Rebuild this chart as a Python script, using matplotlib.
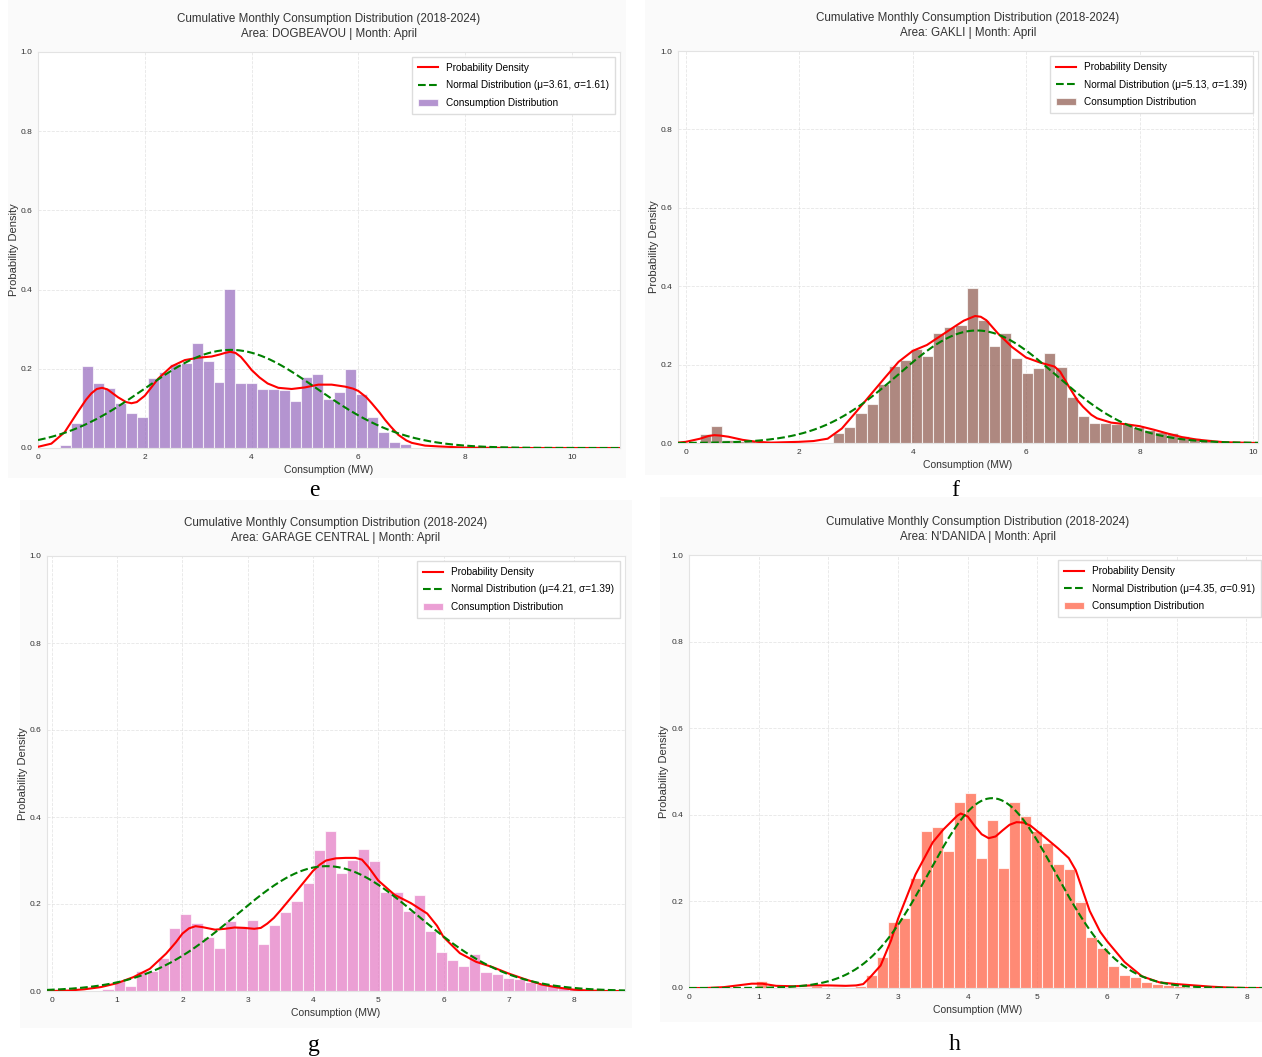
import numpy as np
import matplotlib
matplotlib.use("Agg")
import matplotlib.pyplot as plt
from matplotlib.patches import Rectangle

plt.rcParams['font.family'] = ['Liberation Sans', 'DejaVu Sans']

# ---------------- data ----------------
areas = ["DOGBEAVOU", "GAKLI", "GARAGE CENTRAL", "N'DANIDA"]
panel_letters = ["e", "f", "g", "h"]
mus = [3.61, 5.13, 4.21, 4.35]
sigmas = [1.61, 1.39, 1.39, 0.91]

# histogram (density) bins: first edge, bin width, heights
e_bin_start, e_bin_width = 0.41, 0.2055
e_heights = [0.007, 0.062, 0.206, 0.165, 0.151, 0.113, 0.089, 0.078, 0.176, 0.192,
             0.213, 0.214, 0.264, 0.220, 0.167, 0.402, 0.165, 0.165, 0.150, 0.150,
             0.147, 0.119, 0.179, 0.187, 0.123, 0.142, 0.199, 0.136, 0.079, 0.041,
             0.016, 0.011]

f_bin_start, f_bin_width = 0.246, 0.196
f_heights = [0.022, 0.043, 0.008, 0.006, 0.005, 0.0, 0.0, 0.0, 0.0, 0.0, 0.0, 0.0,
             0.026, 0.041, 0.077, 0.099, 0.150, 0.196, 0.211, 0.240, 0.222, 0.281,
             0.296, 0.300, 0.395, 0.313, 0.248, 0.281, 0.218, 0.179, 0.191, 0.230,
             0.194, 0.117, 0.068, 0.051, 0.051, 0.049, 0.048, 0.041, 0.034, 0.028,
             0.026, 0.017, 0.013, 0.009]

g_bin_start, g_bin_width = 0.775, 0.1703
g_heights = [0.005, 0.024, 0.011, 0.047, 0.046, 0.077, 0.144, 0.177, 0.157, 0.124,
             0.100, 0.161, 0.149, 0.163, 0.109, 0.152, 0.181, 0.208, 0.248, 0.323,
             0.367, 0.272, 0.302, 0.326, 0.298, 0.227, 0.228, 0.185, 0.221, 0.138,
             0.090, 0.072, 0.057, 0.084, 0.043, 0.040, 0.031, 0.027, 0.021, 0.015,
             0.012, 0.008, 0.005]

h_bin_start, h_bin_width = 0.955, 0.158
h_heights = [0.017, 0.0, 0.0, 0.0, 0.003, 0.004, 0.0, 0.003, 0.0, 0.004,
             0.029, 0.071, 0.152, 0.162, 0.255, 0.362, 0.372, 0.317, 0.429, 0.451,
             0.300, 0.389, 0.277, 0.429, 0.398, 0.363, 0.335, 0.287, 0.275, 0.198,
             0.118, 0.093, 0.050, 0.029, 0.025, 0.015, 0.009, 0.007, 0.005, 0.003]

# kernel density curves
e_kde_x = [0, 0.25, 0.5, 0.75, 0.9, 1.0, 1.1, 1.2, 1.3, 1.5, 1.65, 1.75, 1.85, 2.0,
           2.25, 2.5, 2.75, 3.0, 3.25, 3.4, 3.5, 3.6, 3.7, 3.8, 3.9, 4.0, 4.15,
           4.3, 4.5, 4.75, 5.0, 5.25, 5.5, 5.75, 5.9, 6.0, 6.15, 6.25, 6.4, 6.5,
           6.6, 6.75, 6.9, 7.0, 7.25, 7.5, 8.0, 9.0, 10.9]
e_kde_y = [0.003, 0.011, 0.040, 0.092, 0.122, 0.138, 0.149, 0.152, 0.148, 0.128,
           0.116, 0.113, 0.116, 0.132, 0.175, 0.206, 0.222, 0.228, 0.231, 0.236,
           0.240, 0.243, 0.240, 0.230, 0.214, 0.197, 0.178, 0.163, 0.152, 0.149,
           0.153, 0.160, 0.160, 0.155, 0.150, 0.144, 0.128, 0.113, 0.089, 0.071,
           0.055, 0.033, 0.019, 0.013, 0.006, 0.004, 0.001, 0.0, 0.0]

f_kde_x = [-0.14, 0, 0.25, 0.4, 0.5, 0.6, 0.75, 1.0, 1.25, 1.5, 2.0, 2.25, 2.5,
           2.75, 3.0, 3.25, 3.5, 3.75, 4.0, 4.25, 4.5, 4.75, 4.9, 5.0, 5.1, 5.2,
           5.3, 5.5, 5.75, 6.0, 6.25, 6.5, 6.6, 6.75, 6.9, 7.0, 7.15, 7.25, 7.5,
           7.75, 8.0, 8.25, 8.5, 8.75, 9.0, 9.25, 9.5, 9.75, 10.09]
f_kde_y = [0.001, 0.003, 0.011, 0.018, 0.020, 0.019, 0.016, 0.008, 0.003, 0.001,
           0.003, 0.005, 0.011, 0.037, 0.079, 0.122, 0.165, 0.207, 0.235, 0.250,
           0.274, 0.298, 0.312, 0.318, 0.324, 0.322, 0.313, 0.280, 0.245, 0.218,
           0.205, 0.195, 0.182, 0.145, 0.110, 0.093, 0.072, 0.063, 0.052, 0.048,
           0.043, 0.034, 0.024, 0.015, 0.009, 0.005, 0.002, 0.001, 0.0]

g_kde_x = [-0.075, 0, 0.25, 0.5, 0.75, 1.0, 1.25, 1.5, 1.75, 1.9, 2.0, 2.1, 2.2,
           2.3, 2.5, 2.65, 2.8, 2.95, 3.1, 3.2, 3.3, 3.4, 3.5, 3.75, 4.0, 4.1,
           4.2, 4.35, 4.5, 4.65, 4.75, 4.85, 5.0, 5.25, 5.5, 5.75, 5.9, 6.0, 6.25,
           6.5, 6.75, 7.0, 7.25, 7.5, 7.75, 8.0, 8.25, 8.5, 8.78]
g_kde_y = [0.0, 0.0, 0.001, 0.004, 0.009, 0.018, 0.032, 0.051, 0.086, 0.112, 0.132,
           0.144, 0.149, 0.147, 0.141, 0.143, 0.146, 0.145, 0.143, 0.145, 0.155,
           0.168, 0.185, 0.230, 0.276, 0.290, 0.300, 0.305, 0.306, 0.306, 0.302,
           0.285, 0.254, 0.221, 0.202, 0.178, 0.150, 0.124, 0.087, 0.067, 0.055,
           0.040, 0.027, 0.015, 0.008, 0.003, 0.001, 0.0, 0.0]

h_kde_x = [0, 0.25, 0.5, 0.75, 0.9, 1.05, 1.25, 1.5, 1.75, 2.0, 2.25, 2.4, 2.5, 2.6,
           2.75, 2.9, 3.0, 3.25, 3.5, 3.65, 3.75, 3.85, 3.9, 4.0, 4.1, 4.2, 4.3,
           4.4, 4.5, 4.6, 4.7, 4.8, 4.9, 5.1, 5.3, 5.45, 5.55, 5.65, 5.75, 5.9,
           6.0, 6.25, 6.5, 6.75, 7.0, 7.25, 7.5, 7.75, 8.0, 8.28]
h_kde_y = [0.0, 0.0, 0.002, 0.007, 0.010, 0.010, 0.005, 0.004, 0.006, 0.006, 0.005,
           0.006, 0.009, 0.025, 0.052, 0.110, 0.160, 0.262, 0.337, 0.366, 0.382,
           0.398, 0.403, 0.396, 0.374, 0.355, 0.346, 0.350, 0.364, 0.377, 0.383,
           0.382, 0.375, 0.349, 0.322, 0.300, 0.272, 0.225, 0.178, 0.130, 0.108,
           0.060, 0.027, 0.013, 0.009, 0.006, 0.003, 0.001, 0.0, 0.0]

x_ticks = [[0, 2, 4, 6, 8, 10], [0, 2, 4, 6, 8, 10],
           [0, 1, 2, 3, 4, 5, 6, 7, 8], [0, 1, 2, 3, 4, 5, 6, 7, 8]]
y_ticks = [0.0, 0.2, 0.4, 0.6, 0.8, 1.0]

# ---------------- layout / style ----------------
W, H = 1262, 1057
fig = plt.figure(figsize=(W / 100, H / 100), dpi=100)
fig.patch.set_facecolor("white")

bar_colors = ["#9467bd", "#8c564b", "#e377c2", "#ff6347"]
bar_alphas = [0.7, 0.7, 0.7, 0.75]
# axes boxes in pixels: left, right, top, bottom
boxes = [(38, 620, 52, 448), (678, 1258, 51, 443), (47, 625, 556, 991), (689, 1266, 555, 988)]
xlims = [(0, 10.9), (-0.14, 10.09), (-0.075, 8.78), (0, 8.28)]
ylabel_x = [19, 659, 28, 669]
panel_bg = [(8, 626, 0, 478), (645, 1262, 0, 475), (20, 632, 500, 1028), (660, 1262, 497, 1022)]
letter_pos = [(314, 491), (955, 491), (314, 1046), (955, 1045)]

for (l, r, t, b) in panel_bg:
    fig.add_artist(Rectangle((l / W, 1 - b / H), (r - l) / W, (b - t) / H,
                             transform=fig.transFigure, facecolor="#fafafa",
                             edgecolor="none", zorder=-10))

hist_data = [(e_bin_start, e_bin_width, e_heights), (f_bin_start, f_bin_width, f_heights),
             (g_bin_start, g_bin_width, g_heights), (h_bin_start, h_bin_width, h_heights)]
kde_data = [(e_kde_x, e_kde_y), (f_kde_x, f_kde_y), (g_kde_x, g_kde_y), (h_kde_x, h_kde_y)]

for i in range(4):
    l, r, t, b = boxes[i]
    ax = fig.add_axes([l / W, 1 - b / H, (r - l) / W, (b - t) / H], zorder=1)
    ax.set_facecolor("white")
    start, width, heights = hist_data[i]
    lefts = start + width * np.arange(len(heights))
    kx, ky = kde_data[i]
    ax.plot(kx, ky, color="red", lw=1.5, label="Probability Density", zorder=3)
    xs = np.linspace(xlims[i][0], xlims[i][1], 400)
    pdf = np.exp(-0.5 * ((xs - mus[i]) / sigmas[i]) ** 2) / (sigmas[i] * np.sqrt(2 * np.pi))
    ax.plot(xs, pdf, color="green", ls="--", lw=1.5,
            label=f"Normal Distribution (\u03bc={mus[i]:.2f}, \u03c3={sigmas[i]:.2f})", zorder=3)
    ax.bar(lefts, heights, width=width, align="edge", color=bar_colors[i],
           alpha=bar_alphas[i], edgecolor="white", linewidth=0.8,
           label="Consumption Distribution", zorder=2)
    ax.set_xlim(*xlims[i])
    ax.set_ylim(0, 1.0)
    ax.set_xticks(x_ticks[i])
    ax.set_yticks(y_ticks)
    ax.set_yticklabels([f"{v:.1f}" for v in y_ticks])
    ax.tick_params(length=0, labelsize=6, colors="#333333", pad=4)
    ax.grid(True, color="#dcdcdc", ls="--", lw=0.6, alpha=0.7, zorder=0)
    ax.set_axisbelow(True)
    for s in ax.spines.values():
        s.set_color("#e3e3e3")
        s.set_linewidth(0.8)
    ax.set_title(f"Cumulative Monthly Consumption Distribution (2018-2024)\n"
                 f"Area: {areas[i]} | Month: April", fontsize=8.4, color="#333333",
                 pad=11, linespacing=1.35)
    ax.set_xlabel("Consumption (MW)", fontsize=7.5, color="#333333", labelpad=3)
    ax.set_ylabel("Probability Density", fontsize=8, color="#333333")
    ax.yaxis.set_label_coords((ylabel_x[i] - l) / (r - l), 0.5)
    ax.legend(loc="upper right", fontsize=7.2, frameon=True, facecolor="white",
              edgecolor="#dddddd", framealpha=1.0, fancybox=False, labelspacing=0.75,
              borderpad=0.6)
    lx, ly = letter_pos[i]
    fig.text(lx / W, 1 - ly / H, panel_letters[i], ha="center", va="center",
             fontsize=17, family=["Liberation Serif", "DejaVu Serif"], color="black",
             zorder=5)

fig.savefig("out.png", dpi=100)
